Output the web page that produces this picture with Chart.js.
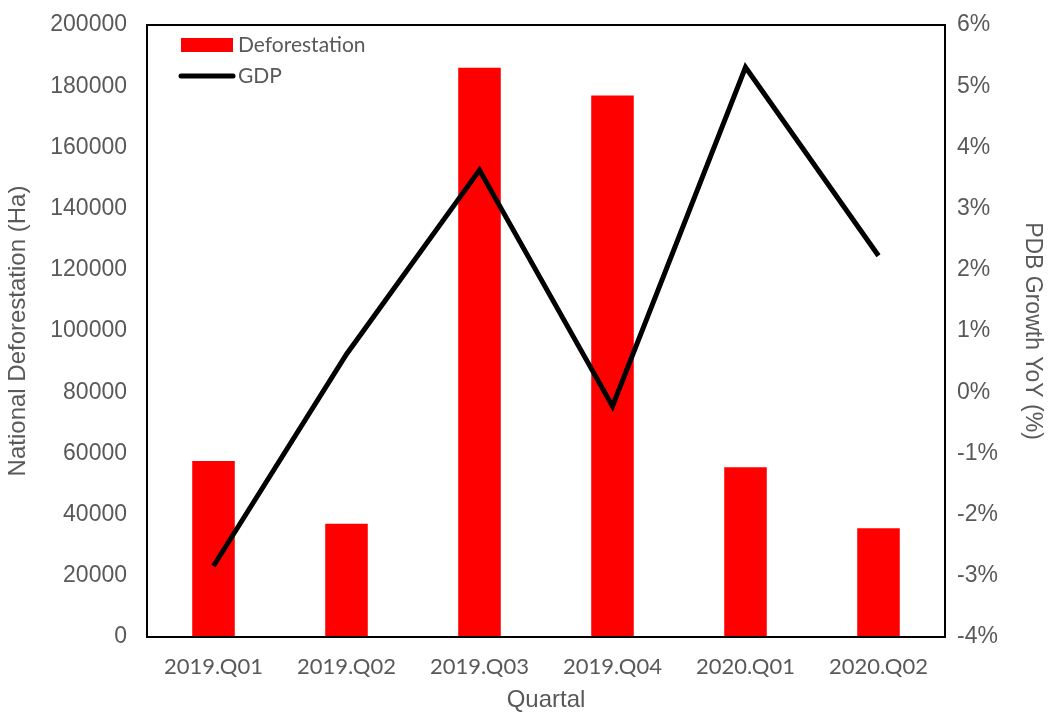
<!DOCTYPE html>
<html>
<head>
<meta charset="utf-8">
<script src="https://cdn.jsdelivr.net/npm/chart.js@4"></script>
<style>
  html, body { margin: 0; padding: 0; background: #fff; }
  #wrap { width: 1050px; height: 712px; }
</style>
</head>
<body>
<div id="wrap"><canvas id="chart"></canvas></div>
<script>
const quarters = ['2019.Q01', '2019.Q02', '2019.Q03', '2019.Q04', '2020.Q01', '2020.Q02'];
const deforestation = [57500, 37000, 186000, 177000, 55500, 35500];
const gdpGrowth = [-2.84, 0.62, 3.63, -0.23, 5.31, 2.23];

const grey = '#595959';
const arial = '"Liberation Sans", Arial, sans-serif';
const calibri = 'Lato, "Open Sans", sans-serif';

// legend drawn inside the plot, top-left, like the original
const innerLegend = {
  id: 'innerLegend',
  afterDraw(chart) {
    const ctx = chart.ctx;
    const area = chart.chartArea;
    const bars = chart.data.datasets.find(d => d.type === 'bar');
    const line = chart.data.datasets.find(d => d.type === 'line');
    const x = area.left + 34;
    ctx.save();
    ctx.font = '21px ' + calibri;
    ctx.textBaseline = 'middle';
    let y = area.top + 20;
    ctx.fillStyle = bars.backgroundColor;
    ctx.fillRect(x, y - 7, 52, 14);
    ctx.fillStyle = grey;
    ctx.fillText(bars.label, x + 57, y);
    y = area.top + 51;
    ctx.strokeStyle = '#000';
    ctx.lineWidth = 5;
    ctx.lineCap = 'round';
    ctx.beginPath();
    ctx.moveTo(x, y);
    ctx.lineTo(x + 52, y);
    ctx.stroke();
    ctx.fillText(line.label, x + 57, y);
    ctx.restore();
  }
};

// black frame around the plot area
const frame = {
  id: 'frame',
  afterDatasetsDraw(chart) {
    const a = chart.chartArea;
    const ctx = chart.ctx;
    ctx.save();
    ctx.strokeStyle = '#000';
    ctx.lineWidth = 2;
    ctx.strokeRect(a.left, a.top, a.right - a.left, a.bottom - a.top);
    ctx.restore();
  }
};

function fixWidth(w) {
  return s => { s.width = w; s.paddingTop = 0; s.paddingBottom = 0; };
}

new Chart(document.getElementById('chart'), {
  data: {
    labels: quarters,
    datasets: [
      {
        type: 'line',
        label: 'GDP',
        data: gdpGrowth,
        yAxisID: 'y1',
        borderColor: '#000',
        borderWidth: 5,
        pointRadius: 0,
        tension: 0,
        order: 0
      },
      {
        type: 'bar',
        label: 'Deforestation',
        data: deforestation,
        yAxisID: 'y',
        backgroundColor: '#ff0000',
        barPercentage: 0.32,
        categoryPercentage: 1,
        order: 1
      }
    ]
  },
  options: {
    responsive: true,
    maintainAspectRatio: false,
    animation: false,
    layout: { padding: { top: 25, right: 0, left: 0, bottom: 0 } },
    plugins: {
      legend: { display: false },
      tooltip: { enabled: false }
    },
    scales: {
      x: {
        grid: { display: false, drawTicks: false },
        border: { display: false },
        ticks: { color: grey, font: { family: calibri, size: 22 }, padding: 17 },
        title: { display: true, text: 'Quartal', color: grey, font: { family: arial, size: 24, lineHeight: 1 }, padding: { top: 0, bottom: 0 } },
        afterFit(s) { s.height = 75; s.paddingLeft = 0; s.paddingRight = 0; }
      },
      y: {
        position: 'left',
        min: 0,
        max: 200000,
        grid: { display: false, drawTicks: false },
        border: { display: false },
        ticks: { stepSize: 20000, color: grey, font: { family: arial, size: 23 }, padding: 20, callback: v => String(v) },
        title: { display: true, text: 'National Deforestation (Ha)', color: grey, font: { family: arial, size: 24 } },
        afterFit: fixWidth(147)
      },
      y1: {
        position: 'right',
        min: -4,
        max: 6,
        grid: { display: false, drawTicks: false },
        border: { display: false },
        ticks: { stepSize: 1, color: grey, font: { family: arial, size: 23 }, padding: 12, callback: v => v + '%' },
        title: { display: true, text: 'PDB Growth YoY (%)', color: grey, font: { family: arial, size: 23 } },
        afterFit: fixWidth(105)
      }
    }
  },
  plugins: [frame, innerLegend]
});
</script>
</body>
</html>
